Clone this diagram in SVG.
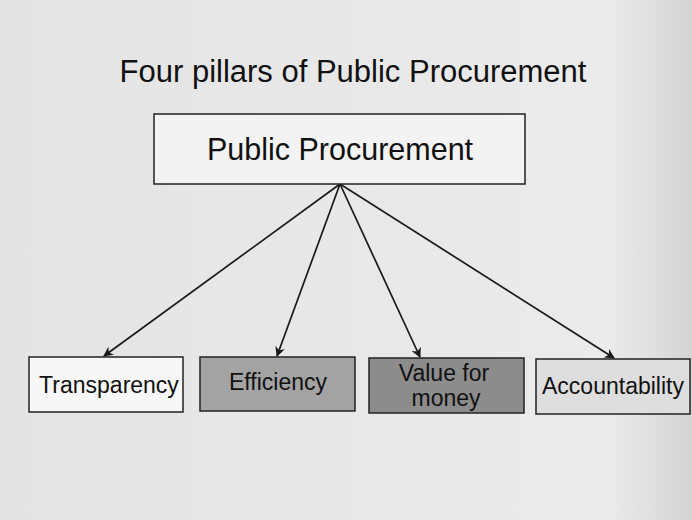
<svg xmlns="http://www.w3.org/2000/svg" width="692" height="520" viewBox="0 0 692 520">
  <defs>
    <linearGradient id="bg" x1="0" y1="0" x2="1" y2="0">
      <stop offset="0" stop-color="#e4e4e4"/>
      <stop offset="0.88" stop-color="#ebebeb"/>
      <stop offset="1" stop-color="#d4d4d4"/>
    </linearGradient>
    <marker id="arrow" viewBox="0 0 10 10" refX="9" refY="5" markerWidth="10" markerHeight="10" orient="auto" markerUnits="userSpaceOnUse">
      <path d="M0,0 L10,5 L0,10 L3,5 Z" fill="#1a1a1a"/>
    </marker>
    <style>
      text { font-family: "Liberation Sans", Arial, sans-serif; fill: #111; text-anchor: middle; }
      .box { stroke: #222; stroke-width: 1.5; }
      .edge { stroke: #1a1a1a; stroke-width: 1.7; fill: none; marker-end: url(#arrow); }
      .lbl { font-size: 23px; }
    </style>
  </defs>

  <rect x="0" y="0" width="692" height="520" fill="url(#bg)"/>

  <text x="353" y="82" font-size="31">Four pillars of Public Procurement</text>

  <g id="connectors">
    <line class="edge" x1="340" y1="184" x2="104" y2="356"/>
    <line class="edge" x1="340" y1="184" x2="277" y2="356"/>
    <line class="edge" x1="340" y1="184" x2="420" y2="357"/>
    <line class="edge" x1="340" y1="184" x2="614" y2="358"/>
  </g>

  <g id="public-procurement">
    <rect class="box" x="154" y="114" width="371" height="70" fill="#f3f3f3"/>
    <text x="340" y="160" font-size="30.5">Public Procurement</text>
  </g>

  <g id="transparency">
    <rect class="box" x="29" y="357" width="154" height="55" fill="#f7f7f7"/>
    <text class="lbl" x="109" y="393">Transparency</text>
  </g>

  <g id="efficiency">
    <rect class="box" x="200" y="357" width="155" height="54" fill="#a3a3a3"/>
    <text class="lbl" x="278" y="390">Efficiency</text>
  </g>

  <g id="value-for-money">
    <rect class="box" x="369" y="358" width="155" height="55" fill="#8c8c8c"/>
    <text class="lbl" x="444" y="381">Value for</text>
    <text class="lbl" x="446" y="406">money</text>
  </g>

  <g id="accountability">
    <rect class="box" x="536" y="359" width="154" height="55" fill="#dedede"/>
    <text class="lbl" x="613" y="394">Accountability</text>
  </g>
</svg>
